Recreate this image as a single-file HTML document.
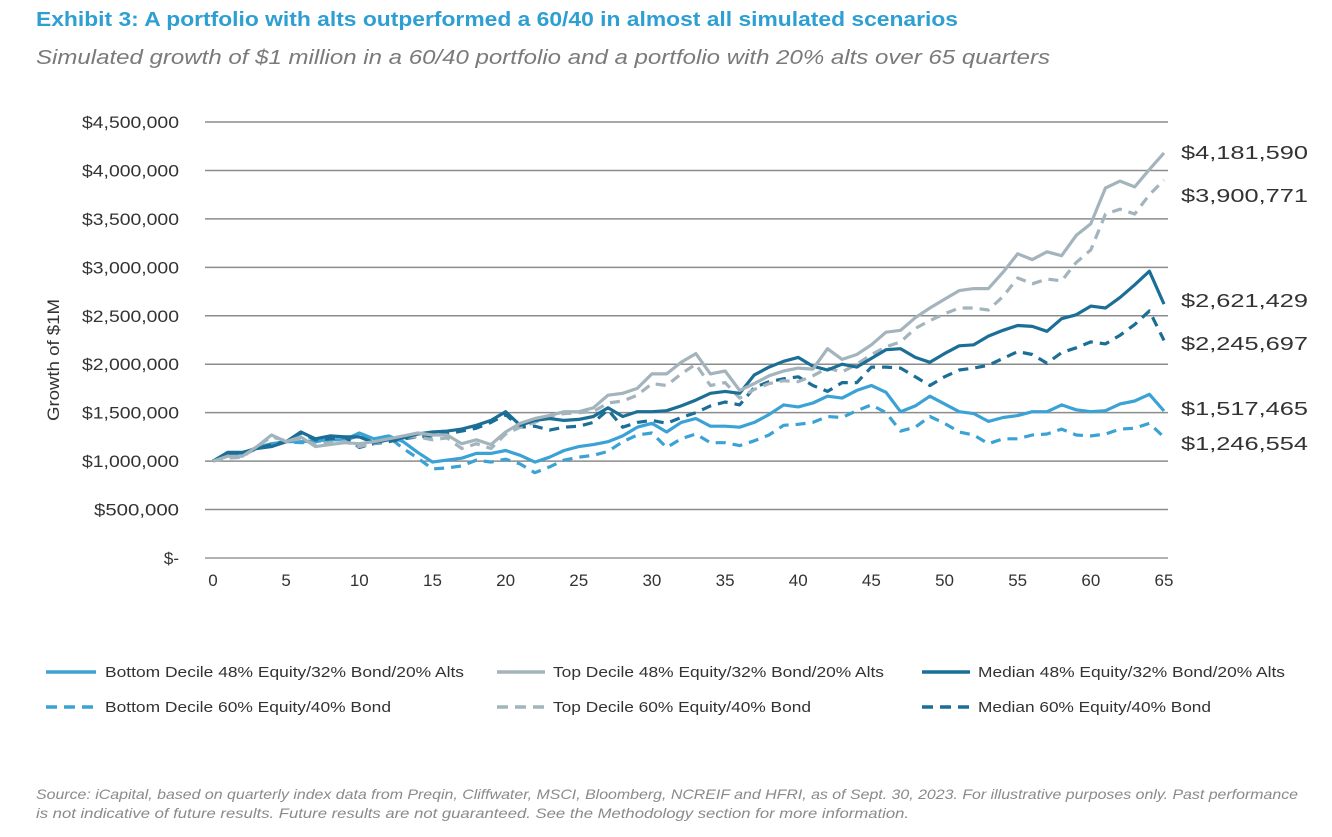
<!DOCTYPE html>
<html><head><meta charset="utf-8"><style>
body{margin:0;background:#fff;width:1332px;height:832px;overflow:hidden;font-family:"Liberation Sans",sans-serif}
</style></head><body>
<svg id="s" width="1332" height="832" xmlns="http://www.w3.org/2000/svg" font-family="Liberation Sans, sans-serif">
<text x="36" y="26" font-size="20" font-weight="bold" fill="#2d9fd3" textLength="922" lengthAdjust="spacingAndGlyphs">Exhibit 3: A portfolio with alts outperformed a 60/40 in almost all simulated scenarios</text>
<text x="36" y="64" font-size="20" font-style="italic" fill="#7a7a7a" textLength="1014" lengthAdjust="spacingAndGlyphs">Simulated growth of $1 million in a 60/40 portfolio and a portfolio with 20% alts over 65 quarters</text>
<g id="grid"></g>
<text transform="translate(59,360) rotate(-90)" font-size="17" fill="#333" text-anchor="middle" textLength="122" lengthAdjust="spacingAndGlyphs">Growth of $1M</text>
<g id="lines"></g>
<g font-size="18" fill="#333">
<text x="1181" y="159" textLength="127" lengthAdjust="spacingAndGlyphs">$4,181,590</text>
<text x="1181" y="202" textLength="127" lengthAdjust="spacingAndGlyphs">$3,900,771</text>
<text x="1181" y="307" textLength="127" lengthAdjust="spacingAndGlyphs">$2,621,429</text>
<text x="1181" y="350" textLength="127" lengthAdjust="spacingAndGlyphs">$2,245,697</text>
<text x="1181" y="415" textLength="127" lengthAdjust="spacingAndGlyphs">$1,517,465</text>
<text x="1181" y="450" textLength="127" lengthAdjust="spacingAndGlyphs">$1,246,554</text>
</g>
<g font-size="15" fill="#333">
<line x1="46" y1="672" x2="96" y2="672" stroke="#3ba2d6" stroke-width="3.5"/><text x="105" y="677" textLength="359" lengthAdjust="spacingAndGlyphs">Bottom Decile 48% Equity/32% Bond/20% Alts</text>
<line x1="497" y1="672" x2="545" y2="672" stroke="#a3b4bd" stroke-width="3.5"/><text x="553" y="677" textLength="331" lengthAdjust="spacingAndGlyphs">Top Decile 48% Equity/32% Bond/20% Alts</text>
<line x1="922" y1="672" x2="970" y2="672" stroke="#1b6e96" stroke-width="3.5"/><text x="978" y="677" textLength="307" lengthAdjust="spacingAndGlyphs">Median 48% Equity/32% Bond/20% Alts</text>
<line x1="46" y1="707" x2="96" y2="707" stroke="#3ba2d6" stroke-width="3.5" stroke-dasharray="11,7"/><text x="105" y="712" textLength="286" lengthAdjust="spacingAndGlyphs">Bottom Decile 60% Equity/40% Bond</text>
<line x1="497" y1="707" x2="545" y2="707" stroke="#a3b4bd" stroke-width="3.5" stroke-dasharray="11,7"/><text x="553" y="712" textLength="258" lengthAdjust="spacingAndGlyphs">Top Decile 60% Equity/40% Bond</text>
<line x1="922" y1="707" x2="970" y2="707" stroke="#1b6e96" stroke-width="3.5" stroke-dasharray="11,7"/><text x="978" y="712" textLength="233" lengthAdjust="spacingAndGlyphs">Median 60% Equity/40% Bond</text>
</g>
<g font-size="14" font-style="italic" fill="#8a8a8a">
<text x="36" y="799" textLength="1262" lengthAdjust="spacingAndGlyphs">Source: iCapital, based on quarterly index data from Preqin, Cliffwater, MSCI, Bloomberg, NCREIF and HFRI, as of Sept. 30, 2023. For illustrative purposes only. Past performance</text>
<text x="36" y="818" textLength="873" lengthAdjust="spacingAndGlyphs">is not indicative of future results. Future results are not guaranteed. See the Methodology section for more information.</text>
</g>
</svg>
<script>
var NS="http://www.w3.org/2000/svg";
function el(p,t,a,txt){var e=document.createElementNS(NS,t);for(var k in a)e.setAttribute(k,a[k]);if(txt!=null)e.textContent=txt;p.appendChild(e);return e;}
var X0=213,X1=1164,Y0=558,PX=(Y0-122)/4500;
function X(i){return X0+(X1-X0)*i/65}function Y(v){return Y0-v*PX}
var g=document.getElementById('grid');
var labs=["$-","$500,000","$1,000,000","$1,500,000","$2,000,000","$2,500,000","$3,000,000","$3,500,000","$4,000,000","$4,500,000"];
for(var k=0;k<=9;k++){var y=Y(k*500);el(g,'line',{x1:205,x2:1168,y1:y,y2:y,stroke:k==0?'#999':'#8c8c8c','stroke-width':1.5});
var a={x:179,y:y+6,'font-size':17,fill:'#333','text-anchor':'end'};
if(k>=2){a.textLength=97;a.lengthAdjust='spacingAndGlyphs';} else if(k==1){a.textLength=85;a.lengthAdjust='spacingAndGlyphs';}
el(g,'text',a,labs[k]);}
for(var i=0;i<=65;i+=5)el(g,'text',{x:X(i),y:586,'font-size':17,fill:'#333','text-anchor':'middle'},i);
var D={
top:[1000,1050,1050,1150,1270,1200,1250,1150,1170,1190,1180,1200,1230,1260,1290,1270,1270,1180,1220,1170,1300,1390,1440,1470,1510,1510,1550,1680,1700,1750,1900,1900,2020,2110,1900,1930,1730,1800,1880,1930,1960,1950,2160,2050,2100,2200,2330,2350,2480,2580,2670,2760,2780,2780,2950,3140,3080,3160,3120,3330,3450,3820,3890,3830,4010,4181],
topd:[1000,1030,1040,1150,1250,1210,1230,1170,1190,1200,1150,1180,1220,1250,1250,1220,1240,1130,1180,1130,1280,1350,1400,1460,1490,1500,1510,1600,1620,1680,1800,1780,1900,2000,1780,1810,1650,1740,1800,1830,1820,1880,1960,1920,2000,2100,2180,2230,2370,2450,2520,2580,2580,2560,2700,2890,2830,2880,2860,3050,3180,3550,3600,3550,3750,3900],
med:[1000,1090,1090,1130,1150,1200,1300,1230,1260,1250,1250,1190,1220,1240,1280,1300,1310,1330,1370,1420,1510,1370,1420,1440,1420,1430,1460,1550,1460,1510,1510,1520,1570,1630,1700,1720,1700,1890,1970,2030,2070,1980,1940,2000,1970,2060,2150,2160,2070,2020,2110,2190,2200,2290,2350,2400,2390,2340,2470,2510,2600,2580,2690,2820,2960,2621],
medd:[1000,1070,1080,1130,1170,1200,1290,1220,1230,1250,1140,1180,1200,1230,1250,1260,1280,1310,1340,1400,1480,1350,1360,1320,1350,1360,1400,1530,1350,1400,1420,1390,1450,1500,1570,1610,1580,1760,1820,1850,1870,1780,1720,1810,1810,1970,1970,1960,1870,1780,1870,1940,1960,1990,2060,2130,2100,2010,2120,2170,2230,2210,2300,2410,2550,2246],
bot:[1000,1080,1080,1140,1180,1200,1200,1210,1220,1220,1290,1230,1260,1200,1090,990,1010,1030,1080,1080,1110,1060,990,1040,1110,1150,1170,1200,1260,1350,1390,1300,1400,1440,1360,1360,1350,1400,1480,1580,1560,1600,1670,1650,1730,1780,1710,1510,1570,1670,1590,1510,1490,1410,1450,1470,1510,1510,1580,1530,1510,1520,1590,1620,1690,1517],
botd:[1000,1070,1060,1130,1170,1200,1190,1200,1220,1220,1260,1200,1250,1130,1030,920,930,950,1010,990,1020,970,880,940,1010,1040,1060,1100,1200,1270,1290,1140,1230,1280,1190,1190,1160,1210,1270,1370,1380,1400,1460,1450,1520,1580,1500,1310,1350,1460,1390,1300,1270,1180,1230,1230,1270,1280,1330,1270,1260,1280,1330,1340,1390,1247]};
var L=document.getElementById('lines');
[['botd','#3ba2d6',1],['bot','#3ba2d6',0],['medd','#1b6e96',1],['topd','#a3b4bd',1],['med','#1b6e96',0],['top','#a3b4bd',0]].forEach(function(s){
var d=D[s[0]].map(function(v,i){return (i?'L':'M')+X(i).toFixed(1)+','+Y(v).toFixed(1)}).join('');
var a={d:d,fill:'none',stroke:s[1],'stroke-width':3.2,'stroke-linejoin':'round'};if(s[2])a['stroke-dasharray']='10,7';el(L,'path',a);});
</script>
</body></html>
